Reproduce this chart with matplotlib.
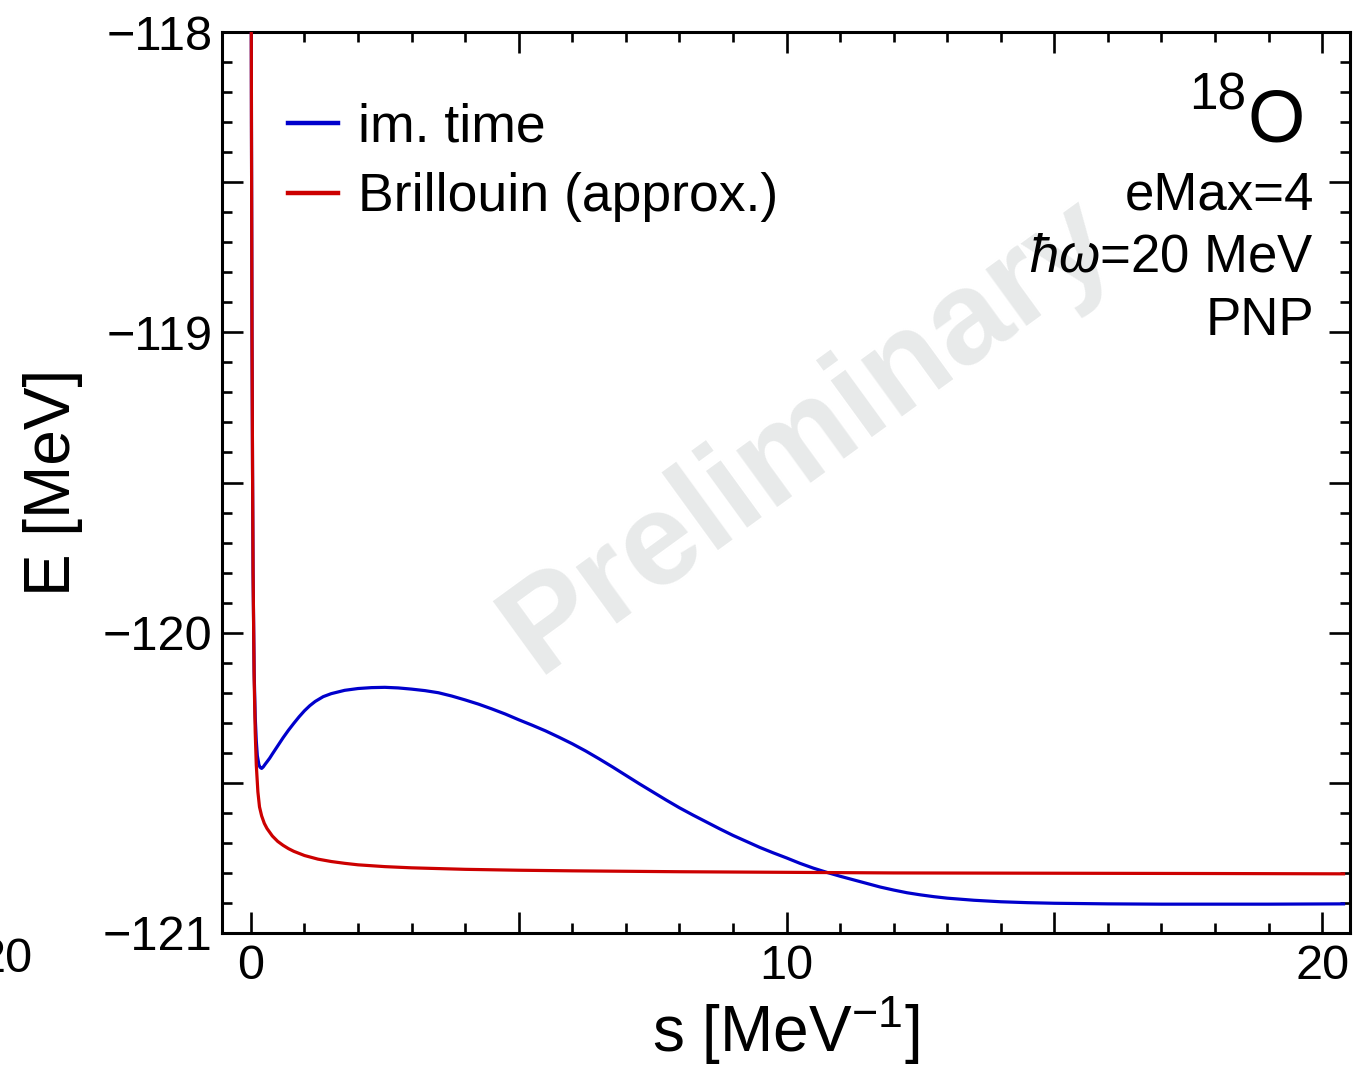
import matplotlib
matplotlib.use("Agg")
import matplotlib.pyplot as plt
from matplotlib.ticker import MultipleLocator, FuncFormatter

plt.rcParams["font.family"] = ["Liberation Sans", "DejaVu Sans"]
plt.rcParams["mathtext.fontset"] = "custom"
plt.rcParams["mathtext.rm"] = "Liberation Sans"
plt.rcParams["mathtext.it"] = "Liberation Sans:italic"

# Flow parameter s [MeV^-1] and ground-state energies [MeV]
s_imtime = [0.0, 0.01, 0.02, 0.03, 0.04, 0.06, 0.08, 0.1, 0.12, 0.15, 0.17,
            0.2, 0.23, 0.27, 0.3, 0.35, 0.4, 0.5, 0.6, 0.7, 0.8, 0.9, 1.0,
            1.1, 1.2, 1.35, 1.5, 1.75, 2.0, 2.25, 2.5, 2.75, 3.0, 3.25, 3.5,
            3.75, 4.0, 4.25, 4.5, 4.75, 5.0, 5.25, 5.5, 5.75, 6.0, 6.25, 6.5,
            6.75, 7.0, 7.25, 7.5, 7.75, 8.0, 8.25, 8.5, 8.75, 9.0, 9.25, 9.5,
            9.75, 10.0, 10.25, 10.5, 10.75, 11.0, 11.25, 11.5, 11.75, 12.0,
            12.25, 12.5, 12.75, 13.0, 13.5, 14.0, 14.5, 15.0, 16.0, 17.0,
            18.0, 19.0, 20.4]
E_imtime = [-117.3, -118.3, -119.0, -119.45, -119.8, -120.13, -120.28,
            -120.36, -120.41, -120.44, -120.448, -120.452, -120.447, -120.437,
            -120.430, -120.418, -120.404, -120.377, -120.350, -120.325,
            -120.302, -120.280, -120.260, -120.243, -120.229, -120.213,
            -120.203, -120.192, -120.186, -120.183, -120.182, -120.184,
            -120.188, -120.193, -120.200, -120.211, -120.224, -120.238,
            -120.254, -120.271, -120.290, -120.308, -120.327, -120.348,
            -120.370, -120.394, -120.420, -120.447, -120.475, -120.503,
            -120.530, -120.557, -120.583, -120.607, -120.630, -120.653,
            -120.675, -120.695, -120.715, -120.733, -120.750, -120.768,
            -120.784, -120.798, -120.811, -120.823, -120.835, -120.847,
            -120.857, -120.866, -120.873, -120.879, -120.884, -120.891,
            -120.896, -120.899, -120.901, -120.903, -120.904, -120.904,
            -120.904, -120.903]

s_brill = [0.0, 0.01, 0.02, 0.03, 0.04, 0.06, 0.08, 0.1, 0.13, 0.16, 0.2,
           0.25, 0.3, 0.4, 0.5, 0.6, 0.7, 0.8, 1.0, 1.25, 1.5, 1.75, 2.0,
           2.5, 3.0, 4.0, 5.0, 6.0, 8.0, 10.0, 12.0, 15.0, 18.0, 20.4]
E_brill = [-117.3, -118.3, -119.0, -119.45, -119.8, -120.15, -120.33,
           -120.44, -120.53, -120.58, -120.61, -120.635, -120.652, -120.677,
           -120.695, -120.708, -120.719, -120.728, -120.742, -120.754,
           -120.762, -120.768, -120.773, -120.779, -120.783, -120.788,
           -120.791, -120.793, -120.796, -120.798, -120.800, -120.801,
           -120.802, -120.803]

legend_labels = ["im. time", "Brillouin (approx.)"]
x_ticklabels = [0, 10, 20]
y_ticklabels = [-118, -119, -120, -121]

W, H = 1367, 1074
fig = plt.figure(figsize=(W / 100, H / 100), dpi=100)
ax = fig.add_axes([222 / W, 1 - 933 / H, (1350 - 222) / W, (933 - 32) / H])

blue = "#0000cc"
red = "#cc0000"
lw = 2.3
ax.plot(s_imtime, E_imtime, color=blue, lw=lw, label=legend_labels[0],
        zorder=3)
ax.plot(s_brill, E_brill, color=red, lw=lw, label=legend_labels[1],
        zorder=4)

ax.set_xlim(-0.54, 20.52)
ax.set_ylim(-121, -118)

# ticks: majors every 5 (x) / 0.5 (y), labels only on selected values
ax.xaxis.set_major_locator(MultipleLocator(5))
ax.xaxis.set_minor_locator(MultipleLocator(1))
ax.yaxis.set_major_locator(MultipleLocator(0.5))
ax.yaxis.set_minor_locator(MultipleLocator(0.1))


def fmt_x(v, pos):
    r = round(v)
    return f"{r}" if abs(v - r) < 1e-6 and r in x_ticklabels else ""


def fmt_y(v, pos):
    r = round(v)
    if abs(v - r) < 1e-6 and r in y_ticklabels:
        return f"{r}".replace("-", "\u2212")
    return ""


ax.xaxis.set_major_formatter(FuncFormatter(fmt_x))
ax.yaxis.set_major_formatter(FuncFormatter(fmt_y))

ax.tick_params(which="both", direction="in", top=True, right=True,
               width=1.9, labelsize=35, colors="black")
ax.tick_params(which="major", length=15)
ax.tick_params(which="minor", length=7.5)
ax.tick_params(axis="y", pad=7)
ax.tick_params(axis="x", pad=8)
for sp in ax.spines.values():
    sp.set_linewidth(2.2)

ax.set_xlabel(r"s [MeV$^{-1}$]", fontsize=46, labelpad=4)
ax.set_ylabel("E [MeV]", fontsize=46, labelpad=14)

leg = ax.legend(loc="upper left",
                bbox_to_anchor=(66 / (1350 - 222), 1 - 71 / 901),
                frameon=False, fontsize=38.5, handlelength=0.935,
                handletextpad=0.374, labelspacing=0.36, borderaxespad=0,
                borderpad=0)
for line in leg.get_lines():
    line.set_linewidth(3.2)


# annotation block, right-aligned, positioned in figure pixels
def px(x, y):
    return x / W, 1 - y / H


fig.text(*px(1305, 141), "O", fontsize=53, ha="right", va="baseline")
fig.text(*px(1246, 109), "18", fontsize=37, ha="right", va="baseline")
fig.text(*px(1314, 209), "eMax=4", fontsize=38, ha="right", va="baseline")
fig.text(*px(1314, 272), r"$\hbar\omega$=20 MeV", fontsize=38, ha="right",
         va="baseline")
fig.text(*px(1314, 335), "PNP", fontsize=38, ha="right", va="baseline")

# watermark
fig.text(*px(808, 436), "Preliminary", fontsize=95, fontweight="bold",
         color="#e8eaea", rotation=36, ha="center", va="center",
         rotation_mode="anchor", zorder=0)

# neighbouring tick label at the left edge
fig.text(*px(33, 972), "20", fontsize=35, ha="right", va="baseline")

fig.savefig("out.png", dpi=100)
